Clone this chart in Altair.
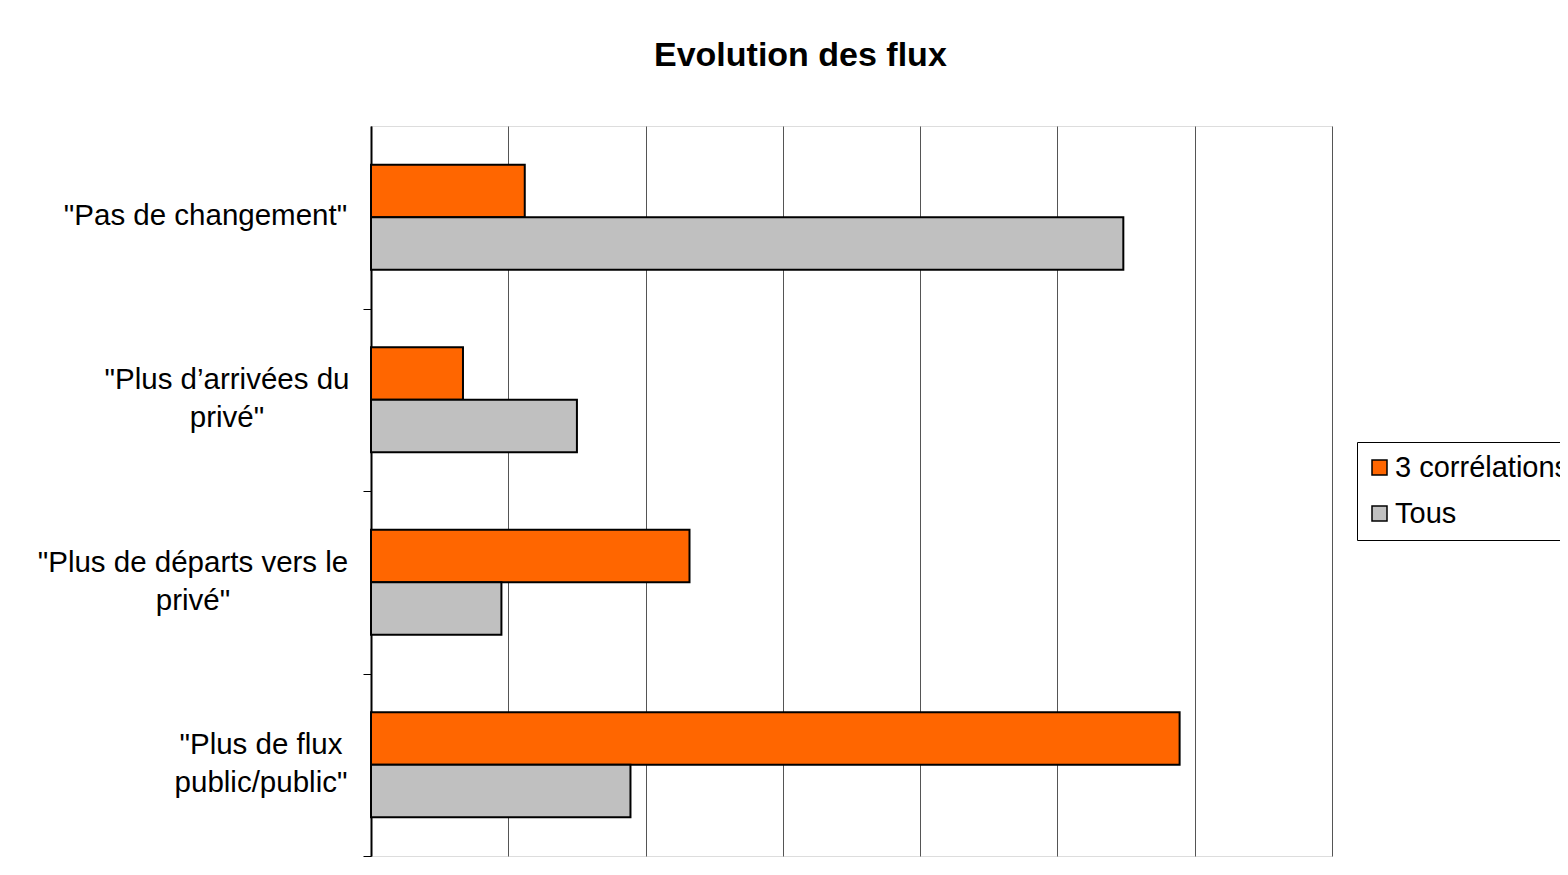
import altair as alt
import pandas as pd

categories = [
    '"Pas de changement"',
    '"Plus d\u2019arrivées du\nprivé"',
    '"Plus de départs vers le\nprivé"',
    '"Plus de flux\npublic/public"',
]
series = ["3 corrélations", "Tous"]
values_3corr = [5.6, 3.35, 11.6, 29.45]
values_tous = [27.4, 7.5, 4.75, 9.45]
x_ticks = [0, 5, 10, 15, 20, 25, 30, 35]
colors = ["#FF6600", "#C0C0C0"]

rows = []
for c, a, b in zip(categories, values_3corr, values_tous):
    rows.append({"cat": c, "serie": series[0], "val": a})
    rows.append({"cat": c, "serie": series[1], "val": b})
df = pd.DataFrame(rows)

FONT = "Liberation Sans"
STEP = 730 / 4


def by_label(pairs, default):
    return {
        "condition": [
            {"test": f"indexof(datum.value, '{key}') >= 0", "value": v}
            for key, v in pairs
        ],
        "value": default,
    }


label_padding = by_label(
    [("changement", 158), ("arriv", 136.5), ("parts", 170.5)], 102.5
)
label_offset = by_label([("changement", -STEP / 2 - 2)], -STEP / 2 - 20)

bars = alt.Chart(df).mark_bar(stroke="black", strokeWidth=2).encode(
    y=alt.Y(
        "cat:N",
        sort=categories,
        scale=alt.Scale(paddingInner=0.425, paddingOuter=0.2125),
        axis=alt.Axis(
            title=None,
            labelExpr="split(datum.label, '\\n')",
            labelFont=FONT,
            labelFontSize=29.5,
            labelColor="black",
            labelAlign="center",
            labelPadding=label_padding,
            labelOffset=label_offset,
            labelLineHeight=38,
            labelLimit=400,
            tickOffset=STEP / 2,
            tickSize=8,
            tickColor="black",
            tickWidth=1,
            domainColor="black",
            domainWidth=2,
            grid=False,
        ),
    ),
    yOffset=alt.YOffset("serie:N", sort=series, scale=alt.Scale(paddingInner=0, paddingOuter=0)),
    x=alt.X(
        "val:Q",
        scale=alt.Scale(domain=[0, 35], nice=False),
        axis=alt.Axis(
            title=None,
            values=x_ticks,
            labels=False,
            ticks=False,
            domain=False,
            grid=True,
            gridColor="#555555",
            gridWidth=1,
        ),
    ),
    color=alt.Color(
        "serie:N",
        sort=series,
        scale=alt.Scale(domain=series, range=colors),
        legend=alt.Legend(
            title=None,
            orient="none",
            legendX=986,
            legendY=316,
            symbolType="square",
            symbolSize=225,
            symbolStrokeColor="black",
            symbolStrokeWidth=1.5,
            symbolOffset=-3,
            labelFont=FONT,
            labelFontSize=29,
            labelColor="black",
            labelOffset=1,
            rowPadding=16,
            padding=11,
            strokeColor="black",
            fillColor="white",
            labelLimit=400,
        ),
    ),
)

chart = bars.properties(
    width=961,
    height=730,
    title=alt.TitleParams(
        text="Evolution des flux",
        font=FONT,
        fontSize=34,
        fontWeight="bold",
        color="black",
        anchor="start",
        frame="group",
        dx=283,
        offset=53,
    ),
    autosize=alt.AutoSizeParams(type="none"),
    padding={"left": 363, "top": 118, "right": 228, "bottom": 11},
).configure_view(
    stroke="#808080",
    strokeWidth=2.5,
).configure(background="white")

chart.save("out.html", embed_options={"renderer": "svg", "actions": False})
